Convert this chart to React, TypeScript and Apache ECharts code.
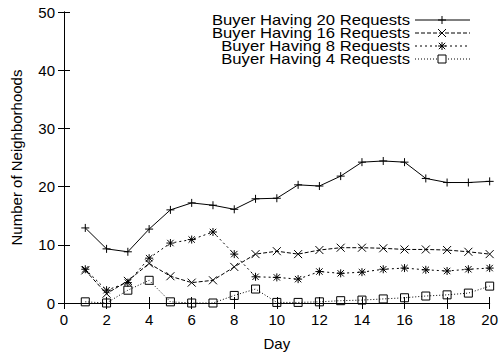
import React, { useEffect, useRef } from "react";
import * as echarts from "echarts";

const days = [1, 2, 3, 4, 5, 6, 7, 8, 9, 10, 11, 12, 13, 14, 15, 16, 17, 18, 19, 20];
const req20 = [12.9, 9.3, 8.8, 12.7, 16.0, 17.2, 16.8, 16.1, 17.9, 18.0, 20.3, 20.1, 21.8, 24.2, 24.4, 24.2, 21.4, 20.7, 20.7, 20.9];
const req16 = [5.6, 1.6, 3.8, 6.8, 4.6, 3.5, 3.9, 6.2, 8.4, 8.9, 8.4, 9.1, 9.5, 9.5, 9.4, 9.2, 9.2, 9.1, 8.8, 8.4];
const req8 = [5.8, 2.2, 3.5, 7.7, 10.3, 10.9, 12.2, 8.4, 4.5, 4.4, 4.1, 5.4, 5.1, 5.3, 5.8, 6.0, 5.7, 5.5, 5.8, 6.0];
const req4 = [0.2, 0, 2.2, 3.9, 0.2, 0, 0, 1.3, 2.4, 0.1, 0.1, 0.2, 0.4, 0.5, 0.7, 0.9, 1.2, 1.4, 1.7, 2.9];
const seriesNames = [
  "Buyer Having 20 Requests",
  "Buyer Having 16 Requests",
  "Buyer Having 8 Requests",
  "Buyer Having 4 Requests",
];

const FONT = "'Liberation Sans', Arial, Helvetica, sans-serif";

const SYM_PLUS = "path://M0,5L10,5M5,0L5,10";
const SYM_X = "path://M0,0L10,10M10,0L0,10";
const SYM_STAR = "path://M0,5L10,5M5,0L5,10M1,1L9,9M9,1L1,9";
const SYM_SQ = "path://M0,0L10,0L10,10L0,10Z";

export default function App() {
  const ref = useRef<HTMLDivElement>(null);
  useEffect(() => {
    document.body.style.margin = "0";
    const chart = echarts.init(ref.current!, null, { renderer: "svg" });
    const all = [req20, req16, req8, req4];
    const symbols = [SYM_PLUS, SYM_X, SYM_STAR, SYM_SQ];
    const dashes: any[] = ["solid", [4, 2], [2, 3], [1, 2]];
    const series = all.map((vals, i) => ({
      name: seriesNames[i],
      type: "line",
      data: days.map((d, j) => [d, vals[j]]),
      symbol: symbols[i],
      symbolSize: 8,
      showSymbol: true,
      lineStyle: { color: "#000", width: 1, type: dashes[i] },
      itemStyle: { color: "rgba(0,0,0,0)", borderColor: "#000", borderWidth: 1 },
      z: 3,
    }));

    // legend graphic
    const legendEls: any[] = [];
    const ly = [20, 33, 46, 59];
    const lx1 = 415, lx2 = 470, mx = 442, r = 4;
    ly.forEach((y, i) => {
      legendEls.push({
        type: "text",
        x: 410,
        y,
        scaleX: 1.19,
        style: {
          text: seriesNames[i],
          textAlign: "right",
          textVerticalAlign: "middle",
          fontSize: 14,
          lineHeight: 13,
          fontFamily: FONT,
          fill: "#000",
        },
      });
      const ls: any = { stroke: "#000", lineWidth: 1 };
      if (i > 0) ls.lineDash = dashes[i];
      legendEls.push({ type: "line", shape: { x1: lx1, y1: y, x2: lx2, y2: y }, style: ls });
      const ms = { stroke: "#000", lineWidth: 1 };
      if (i === 0 || i === 2) {
        legendEls.push({ type: "line", shape: { x1: mx - r, y1: y, x2: mx + r, y2: y }, style: ms });
        legendEls.push({ type: "line", shape: { x1: mx, y1: y - r, x2: mx, y2: y + r }, style: ms });
      }
      if (i === 1 || i === 2) {
        const q = i === 2 ? 3.2 : 4;
        legendEls.push({ type: "line", shape: { x1: mx - q, y1: y - q, x2: mx + q, y2: y + q }, style: ms });
        legendEls.push({ type: "line", shape: { x1: mx + q, y1: y - q, x2: mx - q, y2: y + q }, style: ms });
      }
      if (i === 3) {
        legendEls.push({ type: "rect", shape: { x: mx - r, y: y - r, width: 2 * r, height: 2 * r }, style: { stroke: "#000", fill: "#fff", lineWidth: 1 } });
      }
    });

    const axisCommon = {
      axisLine: { show: true, lineStyle: { color: "#000", width: 1 } },
      axisTick: { show: true, inside: true, length: 6, lineStyle: { color: "#000" } },
      splitLine: { show: false },
    };

    chart.setOption({
      animation: false,
      backgroundColor: "#fff",
      grid: { left: 64, right: 11, top: 12, bottom: 55, containLabel: false },
      xAxis: [
        {
          type: "value",
          min: 0,
          max: 20,
          interval: 2,
          position: "bottom",
          name: "Day",
          nameLocation: "middle",
          nameGap: 33,
          nameTextStyle: { fontSize: 15, fontFamily: FONT, color: "#000" },
          axisLabel: { fontSize: 15, fontFamily: FONT, color: "#000", margin: 9 },
          ...axisCommon,
        },
        {
          type: "value",
          min: 0,
          max: 20,
          interval: 2,
          position: "top",
          axisLabel: { show: false },
          ...axisCommon,
        },
      ],
      yAxis: [
        {
          type: "value",
          min: 0,
          max: 50,
          interval: 10,
          position: "left",
          name: "Number of Neighborhoods",
          nameLocation: "middle",
          nameGap: 40,
          nameRotate: 90,
          nameTextStyle: { fontSize: 15, fontFamily: FONT, color: "#000" },
          axisLabel: { fontSize: 15, fontFamily: FONT, color: "#000", margin: 9 },
          ...axisCommon,
        },
        {
          type: "value",
          min: 0,
          max: 50,
          interval: 10,
          position: "right",
          axisLabel: { show: false },
          ...axisCommon,
        },
      ],
      series,
      graphic: legendEls,
    });
    return () => chart.dispose();
  }, []);
  return <div ref={ref} style={{ width: 501, height: 358 }} />;
}
